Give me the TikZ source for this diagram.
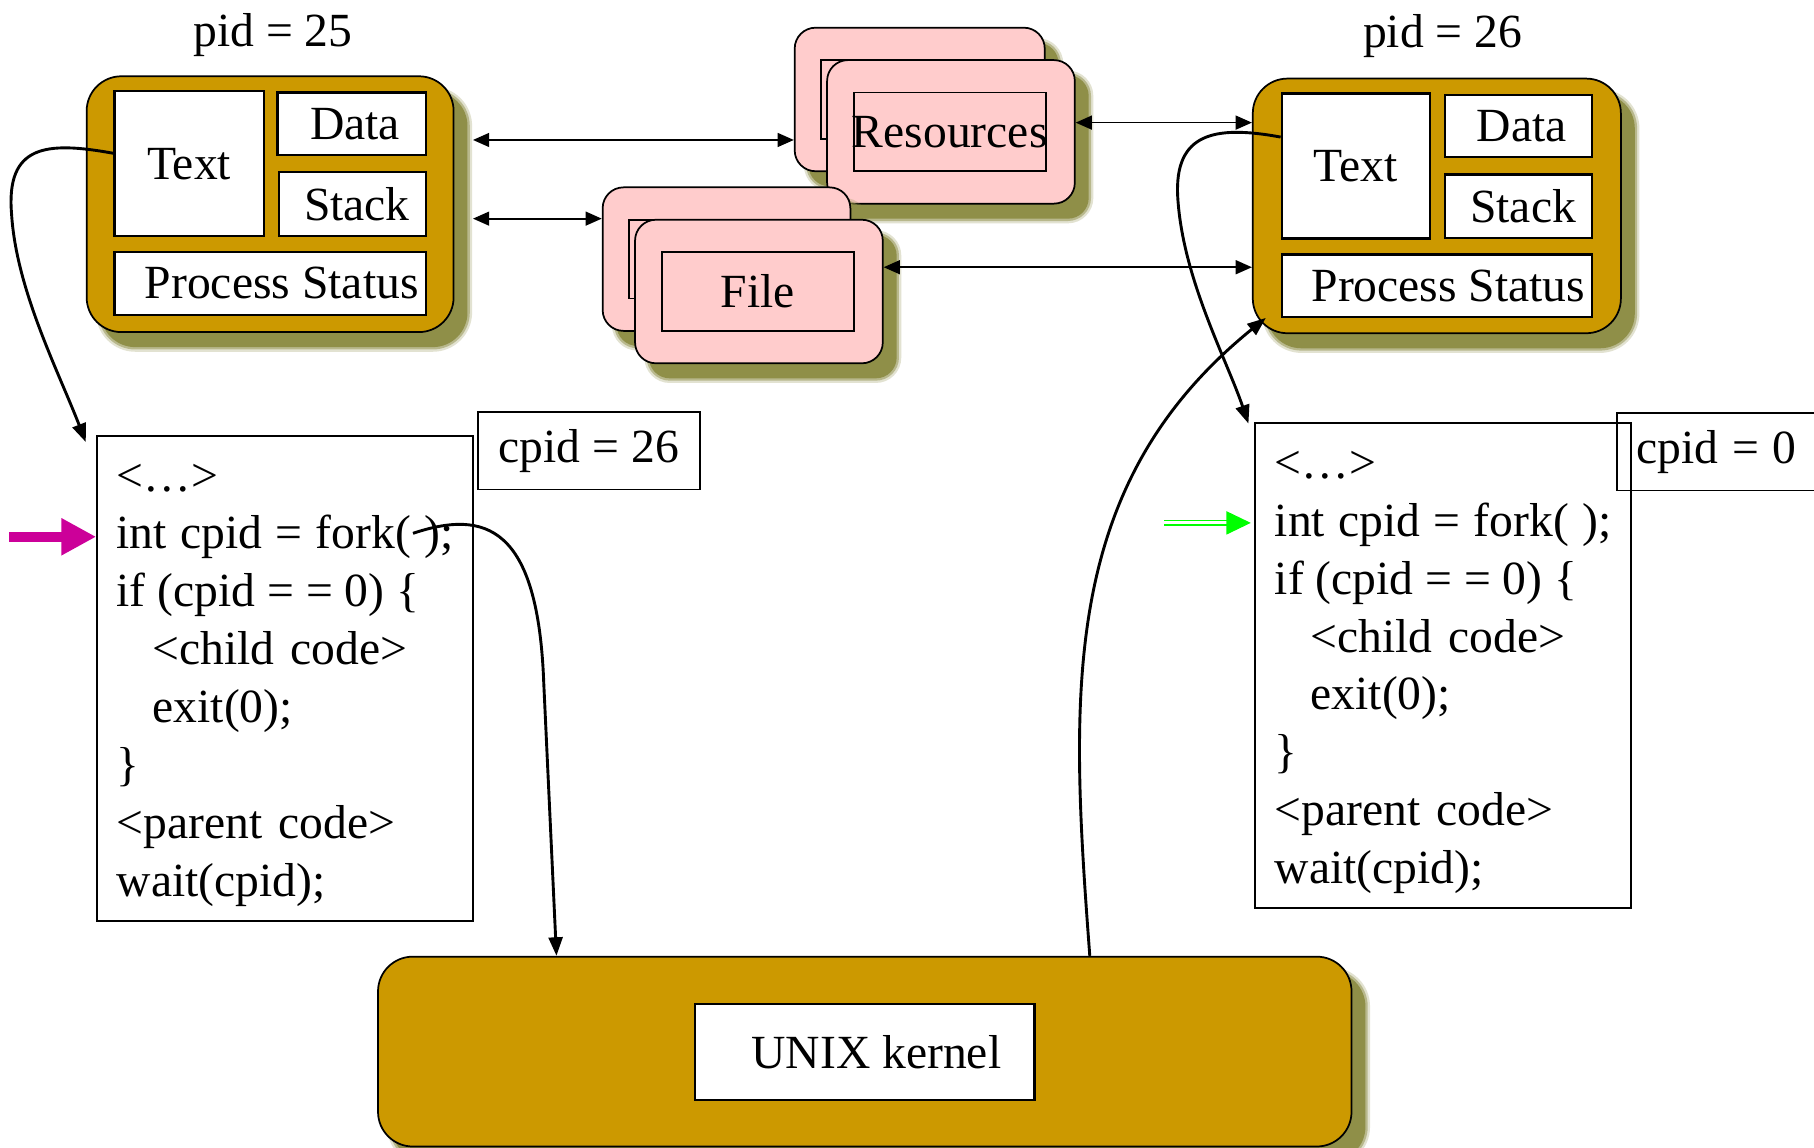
\documentclass[tikz,border=0pt]{standalone}
\usepackage{fontspec}
\setmainfont{Liberation Serif}
\usetikzlibrary{arrows.meta,calc}
\definecolor{gold}{RGB}{204,153,0}
\definecolor{pinkbox}{RGB}{255,204,204}
\definecolor{shadc}{RGB}{143,143,72}
\definecolor{magarrow}{RGB}{204,0,153}
\definecolor{brightgreen}{RGB}{0,255,0}
\newcommand\dfont{\fontsize{11.7pt}{14.23pt}\selectfont}
\newcommand\tsp[2]{\mbox{\spaceskip=#1em\relax #2}}
\begin{document}
\begin{tikzpicture}[x=0.01cm,y=-0.01cm,font=\dfont,
  shad/.style={preaction={draw=shadc,line width=0.08cm,opacity=0.25,transform canvas={xshift=0.12cm,yshift=-0.13cm}},
               preaction={draw=shadc,line width=0.04cm,opacity=0.5,transform canvas={xshift=0.12cm,yshift=-0.13cm}},
               preaction={fill=shadc,transform canvas={xshift=0.12cm,yshift=-0.13cm}}},
  proc/.style={shad,draw,line width=0.015cm,fill=gold,rounded corners=0.3cm,inner sep=0pt},
  wbox/.style={draw,line width=0.02cm,fill=white,inner sep=0pt},
  pbox/.style={shad,draw,line width=0.015cm,fill=pinkbox,rounded corners=0.18cm,inner sep=0pt},
  ibox/.style={draw,line width=0.015cm,inner sep=0pt},
  codebox/.style={draw,line width=0.015cm,fill=white,inner xsep=0.17cm,inner ysep=0.1cm,text width=2.91cm,align=left,minimum height=4.19cm},
  cbox/.style={draw,line width=0.015cm,inner sep=0pt,minimum height=0.67cm},
  dbl/.style={{Triangle[length=0.14cm,width=0.12cm]}-{Triangle[length=0.14cm,width=0.12cm]},line width=0.015cm},
  curv/.style={-{Triangle[length=0.16cm,width=0.12cm]},line width=0.025cm}]
\useasboundingbox (0,0) rectangle (1568,992);
\fill[white] (0,0) rectangle (1568,992);

% left process
\node (lpid) at (236,30) {pid = 25};
\node[proc,minimum width=3.17cm,minimum height=2.21cm] (lproc) at (233.5,176.5) {};
\node[wbox,minimum width=1.29cm,minimum height=1.25cm] (ltext) at (163.5,141.5) {Text};
\node[wbox,minimum width=1.28cm,minimum height=0.54cm] (ldata) at (304,107) {\hspace*{0.06cm}Data};
\node[wbox,minimum width=1.27cm,minimum height=0.55cm] (lstack) at (304.5,176.5) {\hspace*{0.08cm}Stack};
\node[wbox,minimum width=2.69cm,minimum height=0.54cm] (lstat) at (233.5,245) {\hspace*{0.2cm}Process Status};

% right process
\node (rpid) at (1247,31) {pid = 26};
\node[proc,minimum width=3.18cm,minimum height=2.20cm] (rproc) at (1242,178) {};
\node[wbox,minimum width=1.28cm,minimum height=1.25cm] (rtext) at (1172,143.5) {Text};
\node[wbox,minimum width=1.27cm,minimum height=0.54cm] (rdata) at (1312.5,109) {\hspace*{0.06cm}Data};
\node[wbox,minimum width=1.27cm,minimum height=0.55cm] (rstack) at (1312.5,178.5) {\hspace*{0.08cm}Stack};
\node[wbox,minimum width=2.68cm,minimum height=0.54cm] (rstat) at (1242,247) {\hspace*{0.2cm}Process Status};

% resources
\node[pbox,minimum width=2.16cm,minimum height=1.24cm] (rback) at (795,86) {};
\node[ibox,minimum width=1.66cm,minimum height=0.68cm] (rbackin) at (793,86) {};
\node[pbox,minimum width=2.14cm,minimum height=1.24cm] (rfront) at (822,114) {};
\node[ibox,minimum width=1.66cm,minimum height=0.68cm] (rfrontin) at (821,114) {\makebox[1.66cm]{\raisebox{-0.05cm}{Resources}}};

% file
\node[pbox,minimum width=2.14cm,minimum height=1.24cm] (fback) at (628,224) {};
\node[ibox,minimum width=1.66cm,minimum height=0.68cm] (fbackin) at (627,224) {};
\node[pbox,minimum width=2.14cm,minimum height=1.24cm] (ffront) at (656,252) {};
\node[ibox,minimum width=1.66cm,minimum height=0.68cm] (ffrontin) at (655,252) {File};

% code boxes
\node[codebox] (lcode) at (246.5,586.5) {\strut<…>\\\tsp{0.28}{int cpid = fork( );}\\\tsp{0.25}{if (cpid = = 0) \{}\\\hspace*{0.31cm}<child code>\\\hspace*{0.31cm}exit(0);\\\}\\\mbox{<parent code>}\\wait(cpid);};
\node[codebox] (rcode) at (1247.5,575.5) {\strut<…>\\\tsp{0.28}{int cpid = fork( );}\\\tsp{0.25}{if (cpid = = 0) \{}\\\hspace*{0.31cm}<child code>\\\hspace*{0.31cm}exit(0);\\\}\\\mbox{<parent code>}\\wait(cpid);};
\node[cbox,minimum width=1.92cm] (cpidl) at (509,389.5) {cpid = 26};
\node[cbox,anchor=west,text width=1.66cm,inner xsep=0.17cm,align=left] (cpidr) at (1397,390.5) {\tsp{0.28}{cpid = 0}};

% kernel
\node[proc,minimum width=8.41cm,minimum height=1.64cm] (kernel) at (747.5,909) {};
\node[wbox,minimum width=2.93cm,minimum height=0.83cm] (kin) at (747.5,909.5) {\hspace*{0.2cm}UNIX kernel};

% straight connectors
\coordinate (y121) at (0,121);
\coordinate (y189) at (0,189);
\coordinate (y106) at (0,106);
\coordinate (y231) at (0,231);
\draw[dbl] ($(lproc.east |- y121)+(16,0)$) -- (rback.west |- y121);
\draw[dbl] ($(lproc.east |- y189)+(16,0)$) -- (fback.west |- y189);
\draw[dbl] (rfront.east |- y106) -- (rproc.west |- y106);
\draw[dbl] (ffront.east |- y231) -- (rproc.west |- y231);

% pointer arrows
\coordinate (magstart) at (8,464);
\draw[magarrow,line width=0.09cm,-{Triangle[length=0.30cm,width=0.30cm]}] (magstart) -- (lcode.west |- magstart);
\coordinate (gstart) at (1006,452);
\coordinate (gmid) at (1063,452);
\draw[brightgreen,line width=0.014cm,double=white,double distance=0.026cm] (gstart) -- (gmid);
\draw[brightgreen,line width=0.01cm,-{Triangle[length=0.21cm,width=0.20cm]}] (gmid) -- ($(rcode.west |- gmid)+(-3,0)$);

% curves
\draw[curv] ($(ltext.west)+(0,-9)$) .. controls (40,122) and (5,125) .. (10,185) .. controls (14,250) and (50,320) .. ($(lcode.north west)+(-9,6)$);
\coordinate (forkpt) at (357,461);
\draw[curv] (forkpt) .. controls (420,440) and (465,455) .. (470,590) -- ($(kernel.north west)+(155,0)$);
\draw[curv] ($(kernel.north west)+(616,0)$) .. controls (925,600) and (915,420) .. ($(rproc.south west)+(12,-14)$);
\draw[curv] ($(rtext.west)+(0,-25)$) .. controls (1050,108) and (1015,115) .. (1018,170) .. controls (1022,240) and (1060,310) .. ($(rcode.north west)+(-5,1)$);
\end{tikzpicture}
\end{document}
